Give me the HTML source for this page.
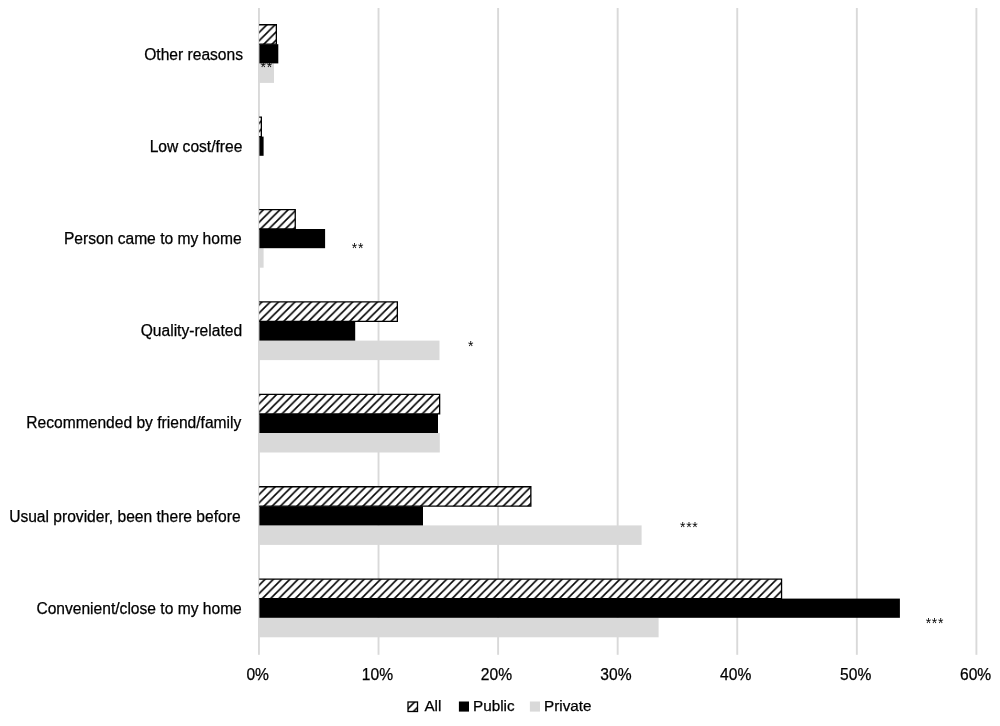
<!DOCTYPE html>
<html><head><meta charset="utf-8"><title>chart</title>
<style>
html,body{margin:0;padding:0;background:#fff;}
body{width:1000px;height:726px;overflow:hidden;}
svg{display:block;will-change:transform;}
text{font-family:"Liberation Sans",Arial,Helvetica,sans-serif;font-size:15.6px;fill:#000;stroke:#000;stroke-width:0.25px;}
.s{font-size:14px;letter-spacing:0.65px;stroke:none;}
.l{font-size:15.25px;}
</style></head><body>
<svg width="1000" height="726" viewBox="0 0 1000 726">
<defs>
<pattern id="h" width="8.251" height="8.251" patternUnits="userSpaceOnUse" patternTransform="translate(2.8,0)">
<rect width="8.251" height="8.251" fill="#fff"/>
<path d="M-2,2 L2,-2 M-2,10.251 L10.251,-2 M6.251,10.251 L10.251,6.251" stroke="#000" stroke-width="1.6" fill="none"/>
</pattern>
</defs>
<rect width="1000" height="726" fill="#fff"/>
<rect x="258.00" y="8.0" width="1.9" height="646.80" fill="#d9d9d9"/>
<rect x="377.57" y="8.0" width="1.9" height="646.80" fill="#d9d9d9"/>
<rect x="497.15" y="8.0" width="1.9" height="646.80" fill="#d9d9d9"/>
<rect x="616.72" y="8.0" width="1.9" height="646.80" fill="#d9d9d9"/>
<rect x="736.30" y="8.0" width="1.9" height="646.80" fill="#d9d9d9"/>
<rect x="855.88" y="8.0" width="1.9" height="646.80" fill="#d9d9d9"/>
<rect x="975.45" y="8.0" width="1.9" height="646.80" fill="#d9d9d9"/>
<rect x="258.95" y="63.40" width="15.05" height="19.50" fill="#d9d9d9"/>
<text class="s" x="260.6" y="71.7">**</text>
<rect x="259.4" y="44.20" width="18.90" height="19.20" fill="#000"/>
<rect x="259.2" y="24.75" width="17.15" height="19.45" fill="url(#h)"/>
<path d="M259.2,24.75 H276.35 V44.20 H259.2" fill="none" stroke="#000" stroke-width="1.3"/>
<text x="243.0" y="60" text-anchor="end">Other reasons</text>
<rect x="259.4" y="136.60" width="4.20" height="19.20" fill="#000"/>
<rect x="259.2" y="117.15" width="2.15" height="19.45" fill="url(#h)"/>
<path d="M259.2,117.15 H261.35 V136.60 H259.2" fill="none" stroke="#000" stroke-width="1.3"/>
<text x="242.4" y="152" text-anchor="end">Low cost/free</text>
<rect x="258.95" y="248.20" width="4.65" height="19.50" fill="#d9d9d9"/>
<rect x="259.4" y="229.00" width="65.70" height="19.20" fill="#000"/>
<rect x="259.2" y="209.55" width="36.05" height="19.45" fill="url(#h)"/>
<path d="M259.2,209.55 H295.25 V229.00 H259.2" fill="none" stroke="#000" stroke-width="1.3"/>
<text x="241.6" y="244" text-anchor="end">Person came to my home</text>
<rect x="258.95" y="340.60" width="180.55" height="19.50" fill="#d9d9d9"/>
<rect x="259.4" y="321.40" width="95.80" height="19.20" fill="#000"/>
<rect x="259.2" y="301.95" width="138.15" height="19.45" fill="url(#h)"/>
<path d="M259.2,301.95 H397.35 V321.40 H259.2" fill="none" stroke="#000" stroke-width="1.3"/>
<text x="242.1" y="336" text-anchor="end">Quality-related</text>
<rect x="258.95" y="433.00" width="180.85" height="19.50" fill="#d9d9d9"/>
<rect x="259.4" y="413.80" width="178.60" height="19.20" fill="#000"/>
<rect x="259.2" y="394.35" width="180.45" height="19.45" fill="url(#h)"/>
<path d="M259.2,394.35 H439.65 V413.80 H259.2" fill="none" stroke="#000" stroke-width="1.3"/>
<text x="241.3" y="428" text-anchor="end">Recommended by friend/family</text>
<rect x="258.95" y="525.40" width="382.65" height="19.50" fill="#d9d9d9"/>
<rect x="259.4" y="506.20" width="163.60" height="19.20" fill="#000"/>
<rect x="259.2" y="486.75" width="271.65" height="19.45" fill="url(#h)"/>
<path d="M259.2,486.75 H530.85 V506.20 H259.2" fill="none" stroke="#000" stroke-width="1.3"/>
<text x="240.6" y="522" text-anchor="end">Usual provider, been there before</text>
<rect x="258.95" y="617.80" width="399.65" height="19.50" fill="#d9d9d9"/>
<rect x="259.4" y="598.60" width="640.50" height="19.20" fill="#000"/>
<rect x="259.2" y="579.15" width="522.35" height="19.45" fill="url(#h)"/>
<path d="M259.2,579.15 H781.55 V598.60 H259.2" fill="none" stroke="#000" stroke-width="1.3"/>
<text x="241.8" y="614" text-anchor="end">Convenient/close to my home</text>
<text class="s" x="351.8" y="253.4">**</text>
<text class="s" x="468.1" y="350.5">*</text>
<text class="s" x="680.1" y="531.6">***</text>
<text class="s" x="925.7" y="628.2">***</text>
<text x="257.65" y="680.2" text-anchor="middle">0%</text>
<text x="377.42" y="680.2" text-anchor="middle">10%</text>
<text x="496.40" y="680.2" text-anchor="middle">20%</text>
<text x="615.98" y="680.2" text-anchor="middle">30%</text>
<text x="735.70" y="680.2" text-anchor="middle">40%</text>
<text x="855.73" y="680.2" text-anchor="middle">50%</text>
<text x="975.60" y="680.2" text-anchor="middle">60%</text>
<rect x="408.0" y="702.0" width="9.5" height="9.5" fill="url(#h)" stroke="#000" stroke-width="1.3"/>
<text class="l" x="424.4" y="710.9">All</text>
<rect x="458.9" y="701.5" width="10.1" height="10.1" fill="#000"/>
<text class="l" x="473.0" y="710.9">Public</text>
<rect x="529.9" y="701.5" width="10.1" height="10.1" fill="#d9d9d9"/>
<text class="l" x="544.0" y="710.9">Private</text>
</svg></body></html>
